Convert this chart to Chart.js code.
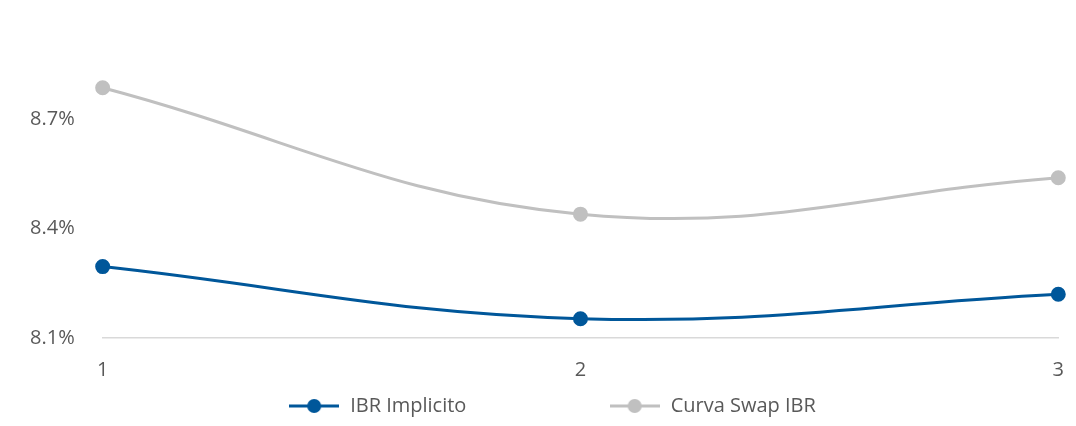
<!DOCTYPE html>
<html>
<head>
<meta charset="utf-8">
<script src="https://cdn.jsdelivr.net/npm/chart.js@4"></script>
<style>
  html, body { margin: 0; padding: 0; background: #fff; }
  #wrap { width: 1076px; height: 426px; }
</style>
</head>
<body>
<div id="wrap"><canvas id="chart"></canvas></div>
<script>
// data
var labels = ["1", "2", "3"];
var ibrImplicito = [8.296, 8.153, 8.22];
var curvaSwap = [8.787, 8.44, 8.54];
var yTicks = [8.1, 8.4, 8.7];

var blue = "#00579a";
var grey = "#c0c0c0";

// legend marker: short line with a dot
function legendIcon(col) {
  var c = document.createElement("canvas");
  c.width = 50; c.height = 16;
  var g = c.getContext("2d");
  g.strokeStyle = col; g.lineWidth = 3;
  g.beginPath(); g.moveTo(0, 8); g.lineTo(50, 8); g.stroke();
  g.fillStyle = col;
  g.beginPath(); g.arc(25, 8, 7, 0, Math.PI * 2); g.fill();
  return c;
}

new Chart(document.getElementById("chart"), {
  type: "line",
  data: {
    labels: labels,
    datasets: [
      { label: "IBR Implicito", data: ibrImplicito, borderColor: blue, backgroundColor: blue,
        borderWidth: 3, pointRadius: 6, tension: 0.4 },
      { label: "Curva Swap IBR", data: curvaSwap, borderColor: grey, backgroundColor: grey,
        borderWidth: 3, pointRadius: 6, tension: 0.4 }
    ]
  },
  options: {
    responsive: true,
    maintainAspectRatio: false,
    animation: false,
    layout: { padding: { left: 10, right: -18, top: 0, bottom: 0 } },
    plugins: {
      legend: {
        position: "bottom",
        labels: {
          usePointStyle: true,
          pointStyleWidth: 52,
          font: { family: "Open Sans", size: 20 },
          color: "#595959",
          padding: 2,
          generateLabels: function (chart) {
            return chart.data.datasets.map(function (ds, i) {
              return { text: ds.label + (i === 0 ? "                           " : ""), pointStyle: legendIcon(ds.borderColor),
                fontColor: "#595959", datasetIndex: i, hidden: false };
            });
          }
        }
      },
      tooltip: { enabled: false }
    },
    scales: {
      x: {
        offset: false,
        grid: { display: false },
        border: { color: "#d9d9d9", width: 1.5 },
        ticks: { color: "#595959", font: { family: "Open Sans", size: 20 }, padding: 12 }
      },
      y: {
        min: 8.1, max: 8.94,
        afterBuildTicks: function (axis) { axis.ticks = yTicks.map(function (v) { return { value: v }; }); },
        grid: { display: false },
        border: { display: false },
        ticks: { color: "#595959", font: { family: "Open Sans", size: 20 }, padding: 20,
          callback: function (v) { return v.toFixed(1) + "%"; } }
      }
    }
  }
});
</script>
</body>
</html>
